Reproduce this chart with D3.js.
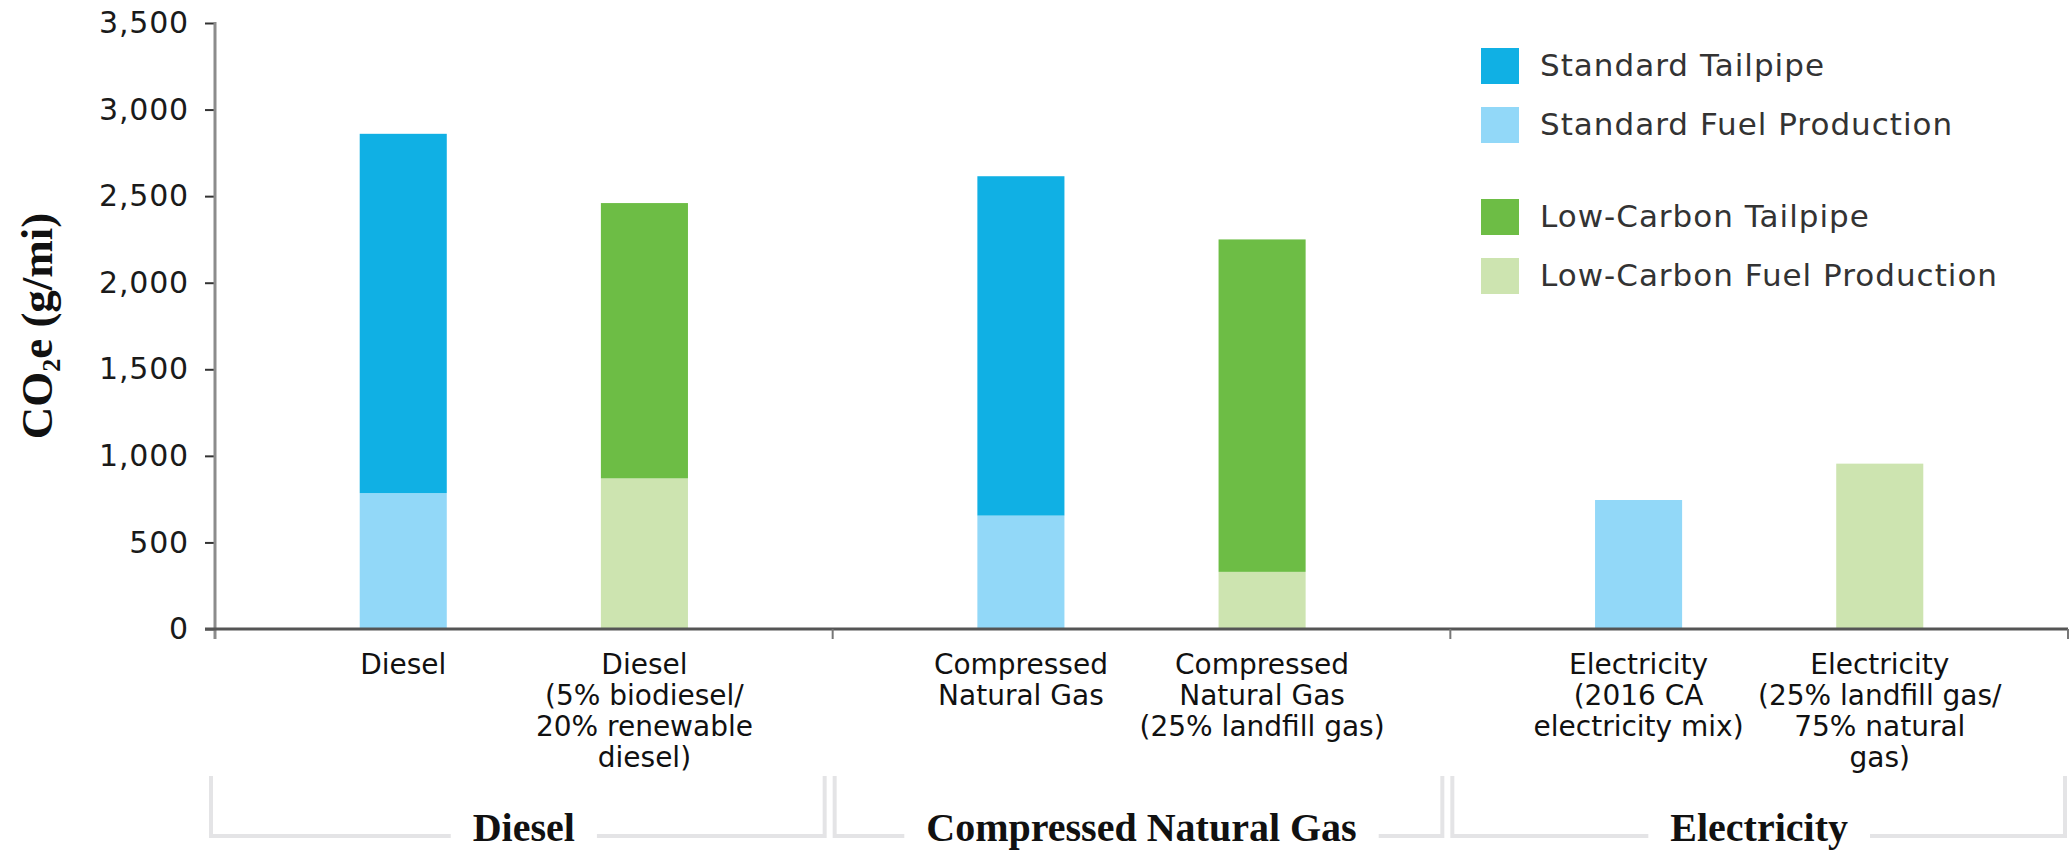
<!DOCTYPE html>
<html>
<head>
<meta charset="utf-8">
<script src="https://cdn.jsdelivr.net/npm/d3@7"></script>
<style>
  html, body { margin: 0; padding: 0; background: #ffffff; }
  svg { display: block; }
</style>
</head>
<body>
<svg id="chart" width="2072" height="852"></svg>
<script>
// ---------- DATA ----------
const groups = ["Diesel", "Compressed Natural Gas", "Electricity"];
const categories = ["diesel", "diesel-low", "cng", "cng-low", "elec", "elec-low"];
const categoryGroup = ["Diesel", "Diesel", "Compressed Natural Gas", "Compressed Natural Gas", "Electricity", "Electricity"];
const categoryLabels = [
  ["Diesel"],
  ["Diesel", "(5% biodiesel/", "20% renewable", "diesel)"],
  ["Compressed", "Natural Gas"],
  ["Compressed", "Natural Gas", "(25% landfill gas)"],
  ["Electricity", "(2016 CA", "electricity mix)"],
  ["Electricity", "(25% landfill gas/", "75% natural", "gas)"]
];
const fuelType = ["Standard", "Low-Carbon", "Standard", "Low-Carbon", "Standard", "Low-Carbon"];
const fuelProduction = [785, 870, 655, 330, 745, 955];
const tailpipe = [2075, 1590, 1960, 1920, 0, 0];
const yTicks = [0, 500, 1000, 1500, 2000, 2500, 3000, 3500];
const legendLabels = ["Standard Tailpipe", "Standard Fuel Production", "Low-Carbon Tailpipe", "Low-Carbon Fuel Production"];
const legendColors = ["#10b0e4", "#92d8f8", "#6dbd45", "#cde4b0"];

// ---------- LAYOUT ----------
const svg = d3.select("#chart");
const plot = { left: 215, right: 2068, top: 23, bottom: 629 };

const y = d3.scaleLinear().domain([0, 3500]).range([plot.bottom, plot.top]);
const x0 = d3.scaleBand().domain(groups).range([plot.left, plot.right]).padding(0);
const x1 = d3.scaleBand().domain([0, 1]).range([0, x0.bandwidth()]).paddingInner(0.639).paddingOuter(0.6);

const rows = categories.map((c, i) => ({
  key: c, group: categoryGroup[i], idx: i % 2, type: fuelType[i],
  production: fuelProduction[i], tailpipe: tailpipe[i], labels: categoryLabels[i]
}));
const xPos = d => x0(d.group) + x1(d.idx);

const colorOf = (type, part) => {
  const name = type + " " + (part === "tailpipe" ? "Tailpipe" : "Fuel Production");
  return legendColors[legendLabels.indexOf(name)];
};

const stack = d3.stack().keys(["production", "tailpipe"]);
const series = stack(rows);

// ---------- BARS ----------
const barG = svg.append("g");
series.forEach(s => {
  barG.selectAll(null).data(s).enter().append("rect")
    .attr("x", d => xPos(d.data))
    .attr("width", x1.bandwidth())
    .attr("y", d => y(d[1]))
    .attr("height", d => Math.max(0, y(d[0]) - y(d[1])))
    .attr("fill", d => colorOf(d.data.type, s.key));
});

// ---------- Y AXIS ----------
const yAxis = d3.axisLeft(y).tickValues(yTicks).tickFormat(d3.format(",")).tickSize(10).tickPadding(16);
const yg = svg.append("g").attr("transform", `translate(${plot.left},0)`).call(yAxis);
yg.select(".domain").remove();
yg.selectAll(".tick line").attr("stroke", "#333").attr("stroke-width", 2);
yg.selectAll(".tick text")
  .attr("font-family", "DejaVu Sans, sans-serif")
  .attr("font-size", 30).attr("letter-spacing", 0.8).attr("fill", "#1a1a1a");
svg.append("line")
  .attr("x1", plot.left).attr("x2", plot.left)
  .attr("y1", plot.top - 1).attr("y2", plot.bottom + 10)
  .attr("stroke", "#8c8c8c").attr("stroke-width", 3);

// ---------- X BASELINE ----------
svg.append("line")
  .attr("x1", plot.left - 10).attr("x2", plot.right)
  .attr("y1", y(0)).attr("y2", y(0))
  .attr("stroke", "#555").attr("stroke-width", 3);
// group separator ticks
const sepX = groups.map(g => x0(g) + x0.bandwidth());
svg.selectAll(null).data(sepX).enter().append("line")
  .attr("x1", d => d).attr("x2", d => d)
  .attr("y1", y(0)).attr("y2", y(0) + 10)
  .attr("stroke", "#777").attr("stroke-width", 2);

// ---------- CATEGORY LABELS ----------
const catG = svg.append("g")
  .attr("font-family", "DejaVu Sans, sans-serif")
  .attr("font-size", 28).attr("fill", "#111").attr("text-anchor", "middle");
rows.forEach(r => {
  const cx = xPos(r) + x1.bandwidth() / 2;
  const t = catG.append("text").attr("x", cx).attr("y", y(0) + 45);
  r.labels.forEach((line, i) => {
    t.append("tspan").attr("x", cx).attr("dy", i === 0 ? 0 : 31).text(line);
  });
});

// ---------- GROUP BRACKETS & LABELS ----------
const grpG = svg.append("g");
groups.forEach((g, i) => {
  const left = x0(g) + (i === 0 ? -4 : 2);
  const right = x0(g) + x0.bandwidth() - 8 + (i === groups.length - 1 ? 5 : 0);
  const cx = x0(g) + x0.bandwidth() / 2;
  const label = grpG.append("text")
    .attr("x", cx).attr("y", 841)
    .attr("text-anchor", "middle")
    .attr("font-family", "Liberation Serif, serif")
    .attr("font-weight", "bold").attr("font-size", 40).attr("fill", "#111")
    .text(g);
  const w = label.node().getComputedTextLength();
  const yTop = 776, yBot = 836, gap = 22;
  const path = `M${left},${yTop}V${yBot}H${cx - w / 2 - gap}M${cx + w / 2 + gap},${yBot}H${right}V${yTop}`;
  grpG.insert("path", "text").attr("d", path).attr("fill", "none")
    .attr("stroke", "#e4e4e6").attr("stroke-width", 4);
});

// ---------- Y AXIS TITLE ----------
const yt = svg.append("text")
  .attr("transform", `translate(52,${(plot.top + plot.bottom) / 2}) rotate(-90)`)
  .attr("text-anchor", "middle")
  .attr("font-family", "Liberation Serif, serif")
  .attr("font-weight", "bold").attr("font-size", 45).attr("fill", "#111");
yt.append("tspan").text("CO");
yt.append("tspan").attr("font-size", 26).attr("dy", 8).text("2");
yt.append("tspan").attr("dy", -8).text("e (g/mi)");

// ---------- LEGEND ----------
const lg = svg.append("g");
legendLabels.forEach((name, i) => {
  const ty = 48 + i * 59 + (i >= 2 ? 33 : 0);
  lg.append("rect").attr("x", 1481).attr("y", ty).attr("width", 38).attr("height", 36)
    .attr("fill", legendColors[i]);
  lg.append("text").attr("x", 1540).attr("y", ty + 28)
    .attr("font-family", "DejaVu Sans, sans-serif")
    .attr("font-size", 31).attr("letter-spacing", 1).attr("fill", "#333").text(name);
});
</script>
</body>
</html>
